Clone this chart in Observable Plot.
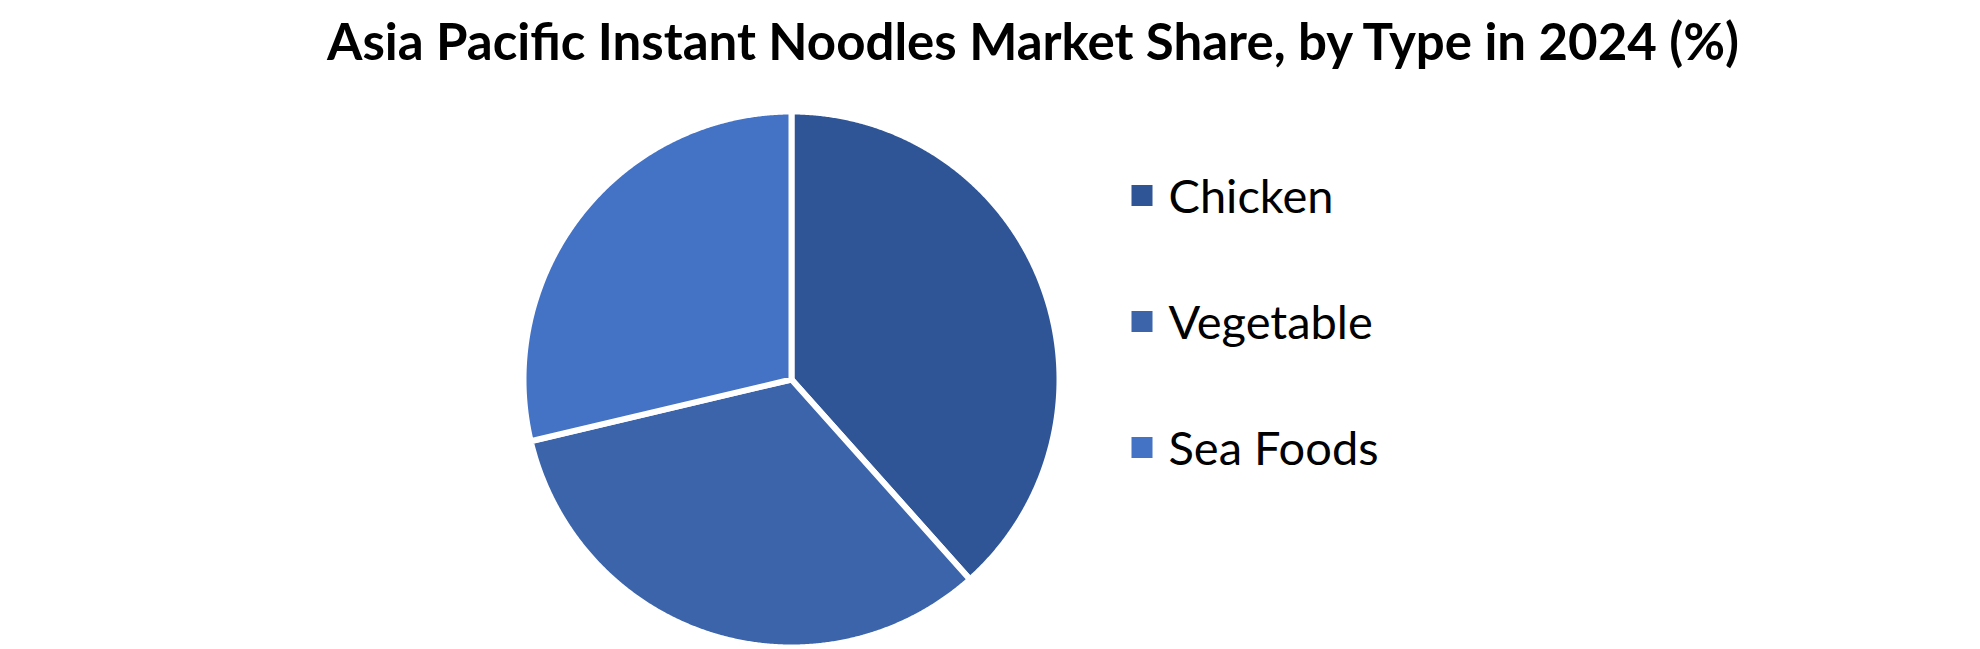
<!DOCTYPE html>
<html>
<head>
<meta charset="utf-8">
<script src="https://cdn.jsdelivr.net/npm/d3@7"></script>
<script src="https://cdn.jsdelivr.net/npm/@observablehq/plot@0.6"></script>
<style>
  html, body { margin: 0; padding: 0; background: #fff; }
  #wrap { position: relative; width: 1980px; height: 649px; overflow: hidden; background: #fff; }
  #title { position: absolute; left: 1033px; top: 15px; transform: translateX(-50%); white-space: nowrap;
           font-family: Lato, "Open Sans", sans-serif; font-weight: 700; font-size: 51px; color: #000; line-height: 1; }
  #pie { position: absolute; left: 0; top: 0; }
  #legend { position: absolute; left: 1120px; top: 140px; }
</style>
</head>
<body>
<div id="wrap">
  <div id="pie"></div>
  <div id="legend"></div>
  <div id="title">Asia Pacific Instant Noodles Market Share, by Type in 2024 (%)</div>
</div>
<script>
const categories = ["Chicken", "Vegetable", "Sea Foods"];
const shares = [38.4, 32.9, 28.7];
const colors = ["#2F5597", "#3B64AB", "#4472C4"];

// Build slice outlines from the pie layout of the values
const pie = d3.pie().sort(null).value(d => d.value);
const arcs = pie(categories.map((name, i) => ({name, value: shares[i]})));
const outline = [];
for (const a of arcs) {
  const name = a.data.name;
  outline.push({name, x: 0, y: 0});
  const n = Math.max(2, Math.ceil((a.endAngle - a.startAngle) / 0.005));
  for (let k = 0; k <= n; ++k) {
    const t = a.startAngle + (a.endAngle - a.startAngle) * k / n;
    outline.push({name, x: Math.sin(t), y: Math.cos(t)});
  }
  outline.push({name, x: 0, y: 0});
}

const cx = 791, cy = 379, R = 268;
const piePlot = Plot.plot({
  width: 1980,
  height: 649,
  margin: 0,
  style: {background: "transparent"},
  x: {domain: [-1, 1], range: [cx - R, cx + R], axis: null},
  y: {domain: [-1, 1], range: [cy + R, cy - R], axis: null},
  color: {domain: categories, range: colors},
  marks: [
    Plot.line(outline, {x: "x", y: "y", z: "name", fill: "name", stroke: "white", strokeWidth: 6, strokeLinejoin: "miter", strokeMiterlimit: 2})
  ]
});
document.getElementById("pie").appendChild(piePlot);

const legendPlot = Plot.plot({
  width: 320,
  height: 380,
  margin: 0,
  style: {background: "transparent", overflow: "visible"},
  y: {type: "point", domain: categories, range: [54, 307], padding: 0, axis: null},
  color: {domain: categories, range: colors},
  marks: [
    Plot.dot(categories, {y: d => d, fill: d => d, symbol: "square", r: 11.85, frameAnchor: "left", dx: 21.5}),
    Plot.text(categories, {y: d => d, text: d => d, frameAnchor: "left", dx: 48, fontSize: 47, fontFamily: "Lato, 'Open Sans', sans-serif", fill: "#000", textAnchor: "start", dy: 2})
  ]
});
document.getElementById("legend").appendChild(legendPlot);
</script>
</body>
</html>
